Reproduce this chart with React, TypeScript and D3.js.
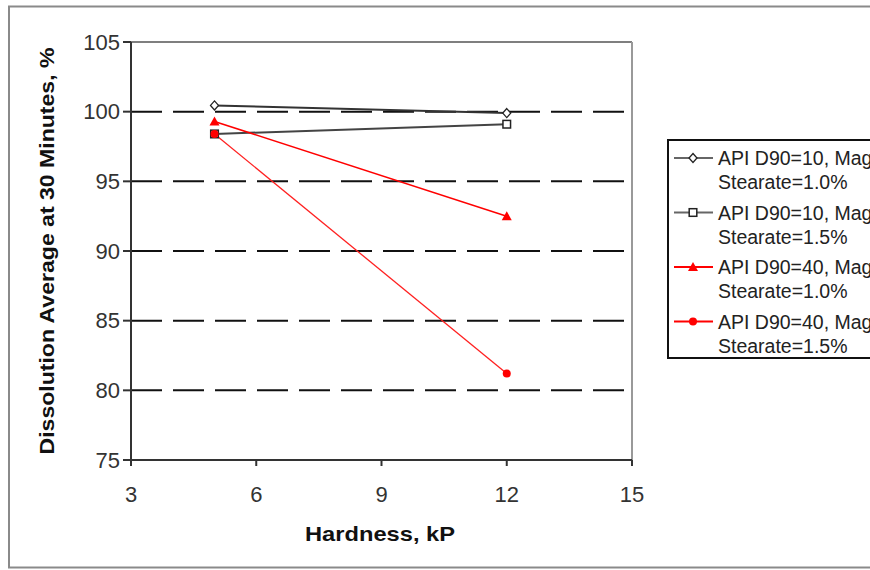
import React from "react";
import * as d3 from "d3";

const hardness = [5, 12];
const seriesNames = [
  ["API D90=10, Magnesium", "Stearate=1.0%"],
  ["API D90=10, Magnesium", "Stearate=1.5%"],
  ["API D90=40, Magnesium", "Stearate=1.0%"],
  ["API D90=40, Magnesium", "Stearate=1.5%"],
];
const d10m10 = [100.45, 99.9];
const d10m15 = [98.4, 99.1];
const d40m10 = [99.3, 92.5];
const d40m15 = [98.4, 81.2];
const xTicks = [3, 6, 9, 12, 15];
const yTicks = [75, 80, 85, 90, 95, 100, 105];
const gridValues = [80, 85, 90, 95, 100];

const FONT = "'Liberation Sans', Arial, sans-serif";

type Marker = "diamond" | "square" | "triangle" | "circle";

const series: { values: number[]; color: string; marker: Marker; width: number }[] = [
  { values: d10m10, color: "#333333", marker: "diamond", width: 2 },
  { values: d10m15, color: "#444444", marker: "square", width: 2 },
  { values: d40m10, color: "#ff0000", marker: "triangle", width: 1.5 },
  { values: d40m15, color: "#ff2020", marker: "circle", width: 1.3 },
];

function MarkerShape({ type, x, y }: { type: Marker; x: number; y: number }) {
  if (type === "diamond") {
    return (
      <path
        d={`M${x},${y - 4.5}L${x + 4},${y}L${x},${y + 4.5}L${x - 4},${y}Z`}
        fill="#fff"
        stroke="#222"
        strokeWidth={1.3}
      />
    );
  }
  if (type === "square") {
    return <rect x={x - 3.8} y={y - 3.8} width={7.6} height={7.6} fill="#fff" stroke="#222" strokeWidth={1.5} />;
  }
  if (type === "triangle") {
    return <path d={`M${x},${y - 5}L${x + 5},${y + 4}L${x - 5},${y + 4}Z`} fill="#ff0000" />;
  }
  return <circle cx={x} cy={y} r={4} fill="#ff0000" />;
}

export default function App() {
  const x = d3.scaleLinear().domain([3, 15]).range([131, 632]);
  const y = d3.scaleLinear().domain([75, 105]).range([460, 42]);
  const line = d3
    .line<[number, number]>()
    .x((d) => x(d[0]))
    .y((d) => y(d[1]));

  const legendX = 668;
  const legendY = 140;
  const rowPitch = 54.5;

  return (
    <svg
      width={870}
      height={570}
      style={{ position: "fixed", left: 0, top: 0, background: "#fff" }}
      fontFamily={FONT}
    >
      <rect x={0} y={0} width={870} height={570} fill="#fff" />
      {/* outer chart border */}
      <rect x={9} y={6.5} width={900} height={561} fill="none" stroke="#8a8a8a" strokeWidth={2} />

      {/* plot area border (top/right) */}
      <line x1={x(3)} x2={x(15)} y1={y(105)} y2={y(105)} stroke="#555" strokeWidth={1.6} />
      <line x1={x(15)} x2={x(15)} y1={y(105)} y2={y(75)} stroke="#999" strokeWidth={2} />

      {/* gridlines */}
      {gridValues.map((v) => (
        <line
          key={v}
          x1={x(3)}
          x2={x(15) - 1}
          y1={y(v)}
          y2={y(v)}
          stroke="#111"
          strokeWidth={2}
          strokeDasharray="31,11"
        />
      ))}

      {/* axes */}
      <line x1={x(3)} x2={x(3)} y1={y(105)} y2={y(75) + 6} stroke="#333" strokeWidth={2} />
      <line x1={x(3) - 8} x2={x(15)} y1={y(75)} y2={y(75)} stroke="#333" strokeWidth={2} />
      {yTicks.map((t) => (
        <g key={t}>
          <line x1={x(3) - 8} x2={x(3)} y1={y(t)} y2={y(t)} stroke="#333" strokeWidth={2} />
          <text x={120} y={y(t) + 7.5} textAnchor="end" fontSize={22} fill="#333">
            {t}
          </text>
        </g>
      ))}
      {xTicks.map((t) => (
        <g key={t}>
          <line x1={x(t)} x2={x(t)} y1={y(75)} y2={y(75) + 6} stroke="#333" strokeWidth={2} />
          <text x={x(t)} y={502} textAnchor="middle" fontSize={22} fill="#333">
            {t}
          </text>
        </g>
      ))}

      {/* axis titles */}
      <text
        x={380}
        y={541}
        textAnchor="middle"
        fontSize={21}
        fontWeight="bold"
        fill="#111"
        textLength={150}
        lengthAdjust="spacingAndGlyphs"
      >
        Hardness, kP
      </text>
      <text
        transform={`translate(54,251) rotate(-90)`}
        textAnchor="middle"
        fontSize={21}
        fontWeight="bold"
        fill="#111"
        textLength={407}
        lengthAdjust="spacingAndGlyphs"
      >
        Dissolution Average at 30 Minutes, %
      </text>

      {/* series */}
      {series.map((s, i) => {
        const pts = hardness.map((h, j) => [h, s.values[j]] as [number, number]);
        return (
          <g key={i}>
            <path d={line(pts) || ""} fill="none" stroke={s.color} strokeWidth={s.width} />
          </g>
        );
      })}
      {series.map((s, i) =>
        hardness.map((h, j) => (
          <MarkerShape key={`${i}-${j}`} type={s.marker} x={x(h)} y={y(s.values[j])} />
        ))
      )}

      {/* legend */}
      <rect x={legendX} y={legendY} width={260} height={218} fill="#fff" stroke="#111" strokeWidth={2} />
      {series.map((s, i) => {
        const cy = legendY + 18 + i * rowPitch;
        return (
          <g key={i}>
            <line x1={legendX + 6} x2={legendX + 45} y1={cy} y2={cy} stroke={i < 2 ? "#666" : "#ff0000"} strokeWidth={2} />
            <MarkerShape type={s.marker} x={legendX + 25} y={cy} />
            <text x={718} y={cy + 7} fontSize={19.5} fill="#222">
              {seriesNames[i][0]}
            </text>
            <text x={718} y={cy + 31} fontSize={19.5} fill="#222">
              {seriesNames[i][1]}
            </text>
          </g>
        );
      })}
    </svg>
  );
}
